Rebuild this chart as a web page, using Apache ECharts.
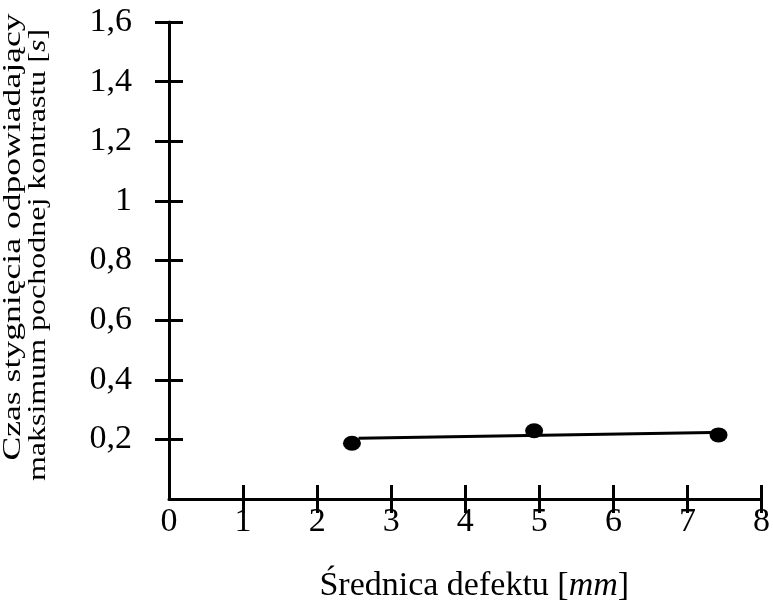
<!DOCTYPE html>
<html>
<head>
<meta charset="utf-8">
<script src="https://cdn.jsdelivr.net/npm/echarts@6/dist/echarts.min.js"></script>
<style>html,body{margin:0;padding:0;background:#fff}#c{width:773px;height:608px}</style>
</head>
<body>
<div id="c"></div>
<script>
// Data
const diameters = [2.47, 4.93, 7.42];
const coolTimes = [0.187, 0.229, 0.215];
const trendX = [2.56, 7.33];
const trendY = [0.204, 0.223];
const xTicks = ['0','1','2','3','4','5','6','7','8'];
const yTicks = ['0','0,2','0,4','0,6','0,8','1','1,2','1,4','1,6'];
const xTitle = 'Średnica defektu [';
const xTitleItalic = 'mm';
const yTitle1 = 'Czas stygnięcia odpowiadający';
const yTitle2a = 'maksimum pochodnej kontrastu [';
const yTitle2i = 's';

const FONT = '"Liberation Serif", "Times New Roman", serif';
const chart = echarts.init(document.getElementById('c'), null, {renderer: 'canvas'});

const overlayTick = {show: true, inside: false, length: 14, lineStyle: {color: '#000', width: 3},
  interval: function (i) { return i !== 0; }};

chart.setOption({
  animation: false,
  backgroundColor: '#fff',
  grid: {left: 169, right: 6, top: 22, bottom: 107},
  xAxis: [{
    type: 'value', min: 0, max: 8, interval: 1,
    axisLine: {show: true, lineStyle: {color: '#000', width: 3}},
    axisTick: {show: true, inside: true, length: 14, lineStyle: {color: '#000', width: 3}},
    splitLine: {show: false},
    axisLabel: {color: '#000', fontFamily: FONT, fontSize: 34, margin: 6,
      formatter: function (v) { return xTicks[Math.round(v)]; }},
    name: '{n|' + xTitle + '}{i|' + xTitleItalic + '}{n|]}',
    nameLocation: 'middle', nameGap: 70,
    nameTextStyle: {padding: [0, 0, 0, 18],
      rich: {n: {fontFamily: FONT, fontSize: 34, color: '#000'},
             i: {fontFamily: FONT, fontSize: 34, color: '#000', fontStyle: 'italic'}}}
  }, {
    type: 'category', data: xTicks, boundaryGap: false, position: 'bottom',
    axisLine: {show: false}, axisLabel: {show: false}, splitLine: {show: false},
    axisTick: overlayTick
  }],
  yAxis: [{
    type: 'value', min: 0, max: 1.6, interval: 0.2,
    axisLine: {show: true, lineStyle: {color: '#000', width: 3}},
    axisTick: {show: true, inside: true, length: 14, lineStyle: {color: '#000', width: 3}},
    splitLine: {show: false},
    axisLabel: {color: '#000', fontFamily: FONT, fontSize: 34, margin: 37, showMinLabel: false,
      formatter: function (v) { return yTicks[Math.round(v / 0.2)]; }}
  }, {
    type: 'category', data: yTicks, boundaryGap: false, position: 'left',
    axisLine: {show: false}, axisLabel: {show: false}, splitLine: {show: false},
    axisTick: overlayTick
  }],
  graphic: [{
    type: 'text', x: 13, y: 237, rotation: Math.PI / 2, scaleX: 1.37,
    style: {text: yTitle1, fontFamily: FONT, fontSize: 26, fill: '#000', align: 'center', verticalAlign: 'middle'}
  }, {
    type: 'text', x: 38, y: 255, rotation: Math.PI / 2, scaleX: 1.23,
    style: {text: '{n|' + yTitle2a + '}{i|' + yTitle2i + '}{n|]}', align: 'center', verticalAlign: 'middle',
      rich: {n: {fontFamily: FONT, fontSize: 26, fill: '#000'},
             i: {fontFamily: FONT, fontSize: 26, fill: '#000', fontStyle: 'italic'}}}
  }],
  series: [{
    type: 'line', xAxisIndex: 0, yAxisIndex: 0,
    data: trendX.map(function (x, i) { return [x, trendY[i]]; }),
    showSymbol: false, symbol: 'none',
    lineStyle: {color: '#000', width: 3}, z: 2
  }, {
    type: 'scatter', xAxisIndex: 0, yAxisIndex: 0,
    data: diameters.map(function (x, i) { return [x, coolTimes[i]]; }),
    symbol: 'circle', symbolSize: [18, 15],
    itemStyle: {color: '#000', opacity: 1}, z: 3
  }]
});
</script>
</body>
</html>
